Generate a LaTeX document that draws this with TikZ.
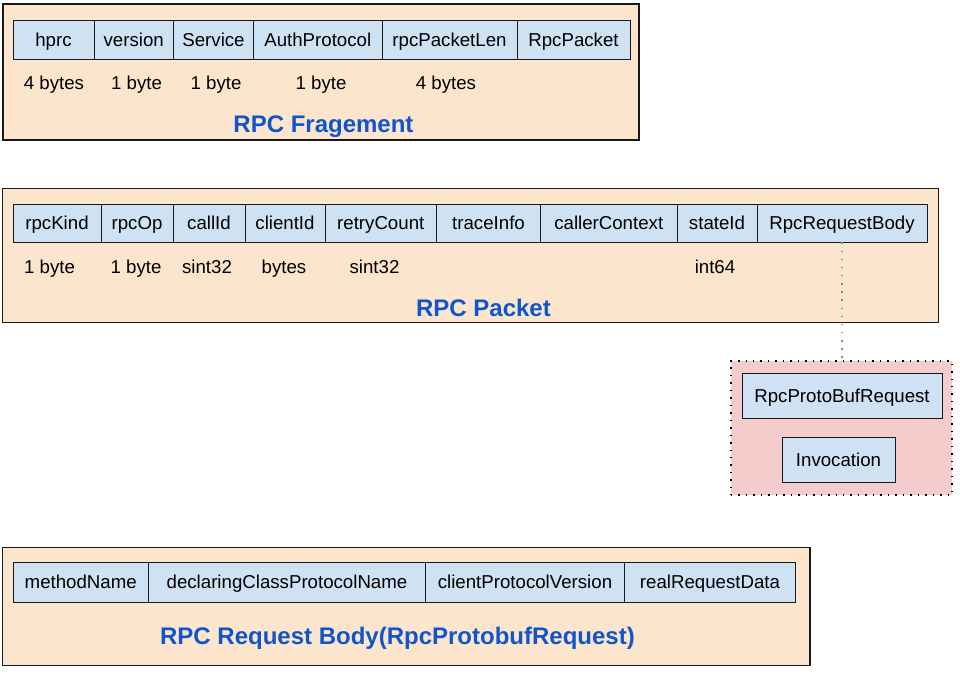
\documentclass[tikz,border=0pt]{standalone}
\usepackage{fontspec}
\setmainfont{Liberation Sans}
\usetikzlibrary{fit}
\definecolor{panelfill}{HTML}{FCE5CD}
\definecolor{cellfill}{HTML}{CFE2F3}
\definecolor{pinkfill}{HTML}{F4CCCC}
\definecolor{titleblue}{HTML}{1155CC}
\definecolor{linkpurple}{HTML}{8E7CC3}
\tikzset{
  panel/.style={draw=black!90, line width=0.8pt, fill=panelfill, inner sep=0pt},
  cell/.style={draw=black!90, line width=0.7pt, fill=cellfill, inner sep=0pt,
    font=\fontsize{14}{16}\selectfont, text height=10pt, text depth=0pt},
  lbl/.style={inner sep=0pt, font=\fontsize{14}{16}\selectfont, text height=10pt, text depth=0pt},
  ttl/.style={inner sep=0pt, text=titleblue, font=\fontsize{18}{20}\selectfont\bfseries, text height=12.9pt, text depth=0pt},
  groupbox/.style={draw=black, line width=1.1pt, dash pattern=on 1.1pt off 4.5pt, fill=pinkfill, inner sep=0pt},
  link/.style={draw=linkpurple, line width=1.1pt, dash pattern=on 1.1pt off 5pt},
}
% field box: name, x1, y1, x2, y2, text  (pixel coordinates)
\newcommand\fld[6]{%
  \pgfmathsetmacro\myfw{(#4-#2)*0.75}%
  \pgfmathsetmacro\myfh{(#5-#3)*0.75}%
  \node[cell, minimum width=\myfw pt, minimum height=\myfh pt] (#1) at ({(#2+#4)/2},{(#3+#5)/2}) {#6};}
\begin{document}
\begin{tikzpicture}[x=0.75pt, y=-0.75pt]
\useasboundingbox (0,0) rectangle (960,675);
\fill[white] (0,0) rectangle (960,675);

% ---------- RPC Fragement ----------
\node[panel, fit={(3,4)(639,140)}] (frag) {};
\fld{hprc}{13}{20}{94}{59}{hprc}
\fld{version}{94}{20}{173.5}{59}{version}
\fld{service}{173.5}{20}{253.5}{59}{Service}
\fld{auth}{253.5}{20}{382}{59}{AuthProtocol}
\fld{plen}{382}{20}{517}{59}{rpcPacketLen}
\fld{rpcpacket}{517}{20}{630}{59}{RpcPacket}
\node[lbl] (fl1) at (54,83) {4 bytes};
\node[lbl] (fl2) at (136.5,83) {1 byte};
\node[lbl] (fl3) at (216,83) {1 byte};
\node[lbl] (fl4) at (321,83) {1 byte};
\node[lbl] (fl5) at (446,83) {4 bytes};
\node[ttl] (fragT) at (323.5,124) {RPC Fragement};

% ---------- RPC Packet ----------
\node[panel, fit={(2.5,188.5)(938.5,322.5)}] (pkt) {};
\fld{kind}{13}{204}{101}{242}{rpcKind}
\fld{op}{101}{204}{173}{242}{rpcOp}
\fld{callid}{173}{204}{245}{242}{callId}
\fld{clientid}{245}{204}{325}{242}{clientId}
\fld{retry}{325}{204}{436.5}{242}{retryCount}
\fld{trace}{436.5}{204}{540.5}{242}{traceInfo}
\fld{caller}{540.5}{204}{677}{242}{callerContext}
\fld{state}{677}{204}{757}{242}{stateId}
\fld{rrb}{757}{204}{927}{242}{RpcRequestBody}
\node[lbl] (pl1) at (49.5,267) {1 byte};
\node[lbl] (pl2) at (136,267) {1 byte};
\node[lbl] (pl3) at (207,267) {sint32};
\node[lbl] (pl4) at (284,267) {bytes};
\node[lbl] (pl5) at (374.5,267) {sint32};
\node[lbl] (pl6) at (715,267) {int64};
\node[ttl] (pktT) at (483.5,307.5) {RPC Packet};

% ---------- Request body group ----------
\node[groupbox, fit={(731,361)(952,495)}] (grp) {};
\fld{protoreq}{742}{373}{942}{418}{RpcProtoBufRequest}
\fld{invoc}{782}{437}{895}{482}{Invocation}
\draw[link] (rrb.south) -- (rrb.south |- grp.north);

% ---------- RPC Request Body ----------
\node[panel, fit={(2.5,547.5)(810,665.5)}] (body) {};
\fld{method}{13}{562}{148.5}{602}{methodName}
\fld{declaring}{148.5}{562}{425.5}{602}{declaringClassProtocolName}
\fld{cpv}{425.5}{562}{624.5}{602}{clientProtocolVersion}
\fld{real}{624.5}{562}{795.5}{602}{realRequestData}
\node[ttl] (bodyT) at (397.5,635.5) {RPC Request Body(RpcProtobufRequest)};
\end{tikzpicture}
\end{document}
